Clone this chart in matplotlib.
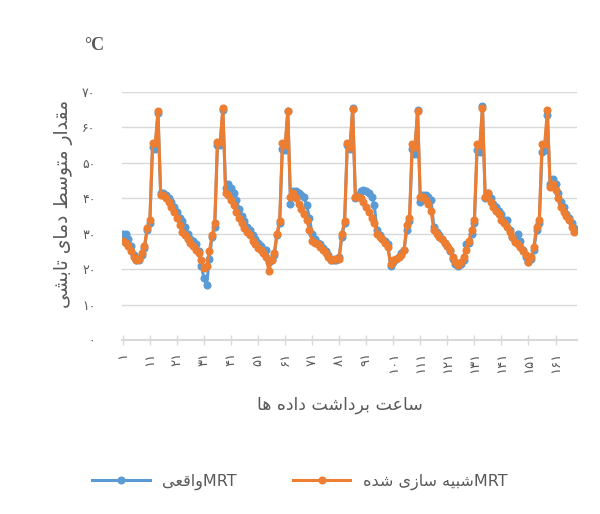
import matplotlib
matplotlib.use('Agg')
import matplotlib.pyplot as plt

hours = list(range(1, 169))

# MRT measured (blue)
mrt_actual = [
    30, 29.8, 28.5, 26.5, 24, 22.5, 22.5, 24, 26, 31, 33, 54.5, 54, 64, 41.5, 41.5, 41, 40, 39, 37.5, 36, 34.5, 33.5, 32,
    30, 28.5, 28, 27, 25, 21, 17.5, 15.5, 23, 29, 32, 55, 55, 65, 43, 44, 43, 41.5, 39.5, 37, 35, 33.5, 32, 31,
    29.5, 28.5, 27.5, 26.5, 25.5, 25.5, 22, 22.5, 24, 29.5, 33, 54, 53.5, 64.5, 38.5, 42, 42, 41.5, 41, 40.5, 38, 34.5, 30, 28.5,
    27.5, 27, 26, 25, 24, 22.5, 22.5, 22.5, 23.5, 29, 33, 55, 54, 65.5, 40, 41, 42, 42.3, 42, 41.4, 40.5, 38, 31, 29.5,
    28.5, 28, 27, 21, 22, 23, 23.5, 24.5, 25.5, 31, 33.5, 54, 52.5, 65, 39, 41, 41, 40.5, 39.5, 32, 30.5, 29.5, 28.5, 27.5,
    26.5, 25, 23, 21.5, 21, 21.5, 22.5, 27, 27.5, 30, 33, 53.5, 53, 66, 40, 41.5, 40, 38.5, 37.5, 36.5, 35.5, 34, 33.8, 31,
    29, 28, 30, 28, 25.5, 23.5, 22, 23, 25.5, 31, 33, 53, 53.5, 63.5, 44, 45.5, 44, 41.5, 39, 37.5, 35.5, 34.5, 33, 31.5,
]

# MRT simulated (orange)
mrt_sim = [
    28, 27.5, 26.5, 25, 23.5, 22.5, 23, 24.5, 26.5, 31.5, 34, 55.5, 55.5, 64.5, 41, 41, 40, 39, 37.5, 36, 34.5, 32.5, 30.5, 29.5,
    28.5, 27.5, 26.5, 25.5, 24.5, 22.5, 20.3, 21, 25, 29.5, 33, 56, 56, 65.5, 41.5, 41, 39.5, 38, 36, 34.5, 33, 31.5, 30.5, 29.5,
    28, 27, 26, 25.5, 24.5, 23.5, 19.5, 22.5, 24.5, 30, 33.5, 55.5, 55, 64.5, 40.5, 41.5, 40, 38.5, 37, 35.5, 34, 31, 28, 27.5,
    27, 26.3, 25.5, 24.5, 23.5, 22.6, 23, 22.8, 23, 30, 33.5, 55.5, 54.5, 65.3, 40.5, 40.5, 40, 39, 37.5, 36, 34.5, 33, 30, 29,
    28.5, 27.5, 26.3, 21.5, 22.5, 23, 23.5, 24, 25.4, 32.5, 34.3, 55.4, 54.5, 64.5, 40.5, 40.5, 39.5, 38.5, 36.5, 31, 30, 29.2, 28.5, 27.5,
    26.5, 25.5, 23.5, 22, 21.2, 22, 23.5, 25.5, 28, 31, 33.8, 55.4, 55, 65.5, 40.5, 41.5, 39, 37.6, 36.5, 35.5, 34, 33, 32, 30.5,
    29, 27.7, 27, 26.3, 25, 24, 22, 23.5, 26.3, 32, 33.8, 55.4, 55.4, 64.8, 43.2, 44, 42.3, 40, 37.6, 36, 35, 33.8, 32, 30.5,
]

x_ticks = list(range(1, 169, 10))
y_ticks = list(range(0, 71, 10))

# contextual forms: isolated, final, initial, medial
FORMS = {
    'ا': ('\uFE8D', '\uFE8E', None, None),
    'ب': ('\uFE8F', '\uFE90', '\uFE91', '\uFE92'),
    'ت': ('\uFE95', '\uFE96', '\uFE97', '\uFE98'),
    'د': ('\uFEA9', '\uFEAA', None, None),
    'ر': ('\uFEAD', '\uFEAE', None, None),
    'ز': ('\uFEAF', '\uFEB0', None, None),
    'س': ('\uFEB1', '\uFEB2', '\uFEB3', '\uFEB4'),
    'ش': ('\uFEB5', '\uFEB6', '\uFEB7', '\uFEB8'),
    'ط': ('\uFEC1', '\uFEC2', '\uFEC3', '\uFEC4'),
    'ع': ('\uFEC9', '\uFECA', '\uFECB', '\uFECC'),
    'ق': ('\uFED5', '\uFED6', '\uFED7', '\uFED8'),
    'م': ('\uFEE1', '\uFEE2', '\uFEE3', '\uFEE4'),
    'ه': ('\uFEE9', '\uFEEA', '\uFEEB', '\uFEEC'),
    'و': ('\uFEED', '\uFEEE', None, None),
    'ی': ('\uFBFC', '\uFBFD', '\uFBFE', '\uFBFF'),
}


def fa(text):
    # join letters and put them in visual (left to right) order
    out = []
    for i, ch in enumerate(text):
        if ch not in FORMS:
            out.append(ch)
            continue
        prev = text[i - 1] if i > 0 else ''
        nxt = text[i + 1] if i + 1 < len(text) else ''
        join_prev = prev in FORMS and FORMS[prev][2] is not None
        join_next = nxt in FORMS and FORMS[ch][2] is not None
        iso, fin, ini, med = FORMS[ch]
        if join_prev and join_next:
            out.append(med)
        elif join_prev:
            out.append(fin)
        elif join_next:
            out.append(ini)
        else:
            out.append(iso)
    return ''.join(reversed(out))


def fa_num(n):
    return str(n).translate(str.maketrans('0123456789', '۰۱۲۳۴۵۶۷۸۹'))


plt.rcParams['font.family'] = ['DejaVu Sans']
gray = '#595959'
grid_gray = '#d9d9d9'

fig = plt.figure(figsize=(6, 5.14), dpi=100)
ax = fig.add_axes([0.203, 0.3385, 0.758, 0.4825])

ax.plot(hours, mrt_actual, color='#5B9BD5', linewidth=2.2, marker='o', markersize=4.8,
        label=fa('واقعی') + 'MRT')
ax.plot(hours, mrt_sim, color='#ED7D31', linewidth=2.2, marker='o', markersize=4.8,
        label=fa('شبیه سازی شده') + 'MRT')

ax.set_xlim(0.63, 168.8)
ax.set_ylim(0, 70)
ax.set_yticks(y_ticks)
ax.set_yticklabels([fa_num(v) for v in y_ticks], color=gray, fontsize=9)
ax.set_xticks(x_ticks)
ax.set_xticklabels([fa_num(v) for v in x_ticks], rotation=90, color=gray, fontsize=9.5)
ax.tick_params(axis='y', length=0, pad=19)
ax.tick_params(axis='x', direction='inout', length=7, width=1, color=grid_gray, pad=5)
ax.grid(axis='y', color=grid_gray, linewidth=1)
ax.set_axisbelow(True)
for side in ['left', 'right', 'top']:
    ax.spines[side].set_visible(False)
ax.spines['bottom'].set_color(grid_gray)
ax.spines['bottom'].set_linewidth(1.5)

ax.set_ylabel(fa('مقدار متوسط دمای تابشی'), color=gray, fontsize=13.5)
ax.yaxis.set_label_coords(-0.108, 0.55)
fig.text(0.567, 0.212, fa('ساعت برداشت داده ها'), color=gray, fontsize=12.5,
         ha='center', va='center')
fig.text(0.157, 0.912, '°C', color=gray, fontsize=13, fontweight='bold',
         family='Liberation Serif', ha='center', va='center')

fig.legend(loc='center', bbox_to_anchor=(0.5, 0.062), ncol=2, frameon=False,
           numpoints=1, handlelength=3.6, columnspacing=3.5, fontsize=11.5,
           labelcolor=gray)

fig.savefig('out.png', dpi=100)
